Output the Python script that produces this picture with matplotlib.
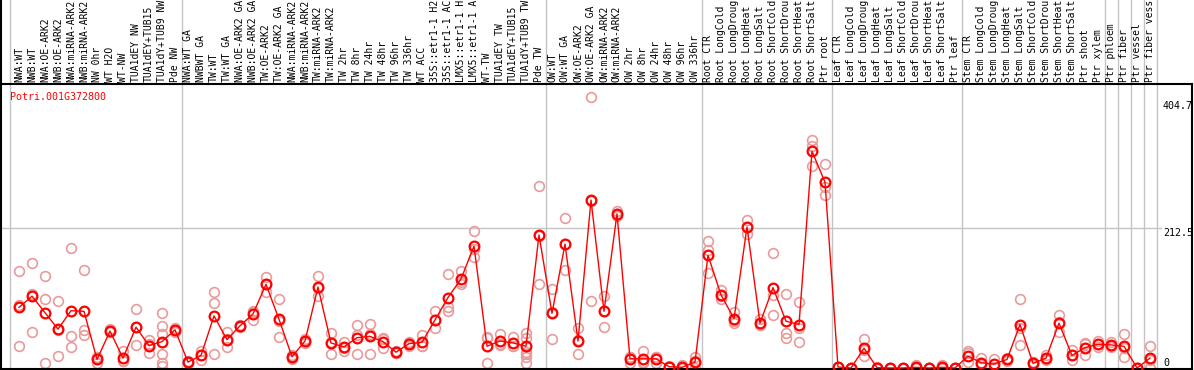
import matplotlib
matplotlib.use("Agg")
import matplotlib.pyplot as plt
import matplotlib.transforms as mtransforms
from matplotlib.lines import Line2D

# ---------------- data ----------------
gene_id = "Potri.001G372800"

labels = [
    "NWA:WT", "NWB:WT", "NWA:OE-ARK2", "NWB:OE-ARK2", "NWA:miRNA-ARK2", "NWB:miRNA-ARK2",
    "NW 0hr", "WT H2O", "WT-NW", "TUA1dEY NW", "TUA1dEY+TUB15", "TUA1dY+TUB9 NW", "Pde NW",
    "NWA:WT GA", "NWBWT GA", "TW:WT", "TW:WT GA", "NWA:OE-ARK2 GA", "NWB:OE-ARK2 GA",
    "TW:OE-ARK2", "TW:OE-ARK2 GA", "NWA:miRNA-ARK2", "NWB:miRNA-ARK2", "TW:miRNA-ARK2",
    "TW:miRNA-ARK2", "TW 2hr", "TW 8hr", "TW 24hr", "TW 48hr", "TW 96hr", "TW 336hr",
    "WT ACC", "35S::etr1-1 H2", "35S::etr1-1 AC", "LMX5::etr1-1 H", "LMX5::etr1-1 A",
    "WT-TW", "TUA1dEY TW", "TUA1dEY+TUB15", "TUA1dY+TUB9 TW", "Pde TW",
    "OW:WT", "OW:WT GA", "OW:OE-ARK2", "OW:OE-ARK2 GA", "OW:miRNA-ARK2", "OW:miRNA-ARK2",
    "OW 2hr", "OW 8hr", "OW 24hr", "OW 48hr", "OW 96hr", "OW 336hr",
    "Root CTR", "Root LongCold", "Root LongDroug", "Root LongHeat", "Root LongSalt",
    "Root ShortCold", "Root ShortDrou", "Root ShortHeat", "Root ShortSalt", "Ptr root",
    "Leaf CTR", "Leaf LongCold", "Leaf LongDroug", "Leaf LongHeat", "Leaf LongSalt",
    "Leaf ShortCold", "Leaf ShortDrou", "Leaf ShortHeat", "Leaf ShortSalt", "Ptr leaf",
    "Stem CTR", "Stem LongCold", "Stem LongDroug", "Stem LongHeat", "Stem LongSalt",
    "Stem ShortCold", "Stem ShortDrou", "Stem ShortHeat", "Stem ShortSalt", "Ptr shoot",
    "Ptr xylem", "Ptr phloem", "Ptr fiber", "Ptr vessel", "Ptr fiber vess",
]

mean_values = [
    92, 109, 84, 59, 87, 86, 13, 56, 15, 62, 34, 40, 58,
    9, 19, 79, 43, 64, 82, 127, 74, 17, 41, 123, 38, 32, 46, 48, 40, 24, 37,
    39, 73, 107, 135, 185, 33, 41, 38, 33, 202,
    83, 188, 41, 255, 86, 234, 14, 14, 14, 2, 1, 9,
    171, 111, 75, 214, 68, 122, 71, 66, 329, 282,
    1.5, 0, 30, 0.5, 0, 0, 1, 0, 1, 0,
    18, 8, 6, 13, 66, 7, 15, 68, 19, 31,
    36, 35, 33, 0, 15,
]

replicate_values = [
    [147, 34, 95], [160, 113, 54], [140, 104, 7], [102, 18, 57], [182, 49, 32],
    [149, 58, 50], [15, 7, 17], [59, 54, 56], [26, 10, 10], [90, 35, 62],
    [43, 23, 36], [84, 64, 52, 21, 7, 3], [60, 55, 58],
    [9, 7, 11], [26, 12, 20], [116, 99, 21], [54, 32, 44], [65, 62, 64],
    [87, 73, 85], [138, 116, 127], [104, 47, 72], [17, 20, 14], [44, 38, 41],
    [139, 110, 121], [53, 21, 40], [39, 26, 31], [66, 22, 50], [67, 52, 22],
    [45, 30, 44], [23, 26, 23], [39, 34, 38], [50, 34, 33], [86, 60, 73],
    [142, 92, 86], [147, 128, 131], [208, 168, 180], [45, 7, 47], [51, 35, 37],
    [47, 34, 33], [53, 45, 25, 21, 16, 8], [277, 128, 200],
    [120, 44, 85], [227, 149, 188], [60, 21, 42], [411, 101, 253], [110, 62, 86],
    [238, 230, 234], [17, 8, 17], [26, 9, 8], [17, 8, 16], [3, 1, 2], [4, 0, 0],
    [17, 0, 10],
    [193, 179, 144], [119, 105, 110], [85, 71, 69], [224, 204, 214], [74, 65, 66],
    [175, 111, 80], [112, 53, 46], [100, 60, 40], [346, 337, 307], [309, 262, 275],
    [2, 1, 2], [0, 0, 0], [44, 18, 28], [2, 0, 0], [0, 0, 0], [0, 0, 0], [5, 0, 0],
    [0, 0, 0], [5, 0, 0], [0, 0, 0],
    [26, 23, 9], [15, 6, 4], [13, 2, 2], [15, 10, 13], [104, 35, 60], [9, 5, 7],
    [20, 12, 13], [81, 54, 70], [27, 12, 19], [38, 19, 36],
    [41, 32, 36], [40, 33, 32], [52, 17, 31], [0, 0, 0], [33, 0, 12],
]

y_tick_values = [0, 212.5, 404.7]
y_tick_labels = ["0", "212.5", "404.7"]
group_boundaries = [-0.7, 12.5, 40.5, 52.5, 62.5, 72.5, 83.5, 84.5, 85.5, 86.5, 87.5]

# ---------------- layout ----------------
W, H = 1194, 370
fig = plt.figure(figsize=(W / 100, H / 100), dpi=100)
fig.patch.set_facecolor("white")

ax_left_px, ax_right_px = 1, 1192
ax_top_px, ax_bot_px = 84, 369
ax = fig.add_axes([ax_left_px / W, (H - ax_bot_px) / H,
                   (ax_right_px - ax_left_px) / W, (ax_bot_px - ax_top_px) / H])

step_px = 13.0
x0_px = 19.0
ax.set_xlim((ax_left_px - x0_px) / step_px, (ax_right_px - x0_px) / step_px)
scale = 140.0 / 212.5  # px per unit
zero_px = 368.0
ax.set_ylim(-(ax_bot_px - zero_px) / scale, (zero_px - ax_top_px) / scale)

mono = "DejaVu Sans Mono"
grid_c = "#c4c4c4"

# vertical group lines (extend through the label band)
top_ext = (ax_bot_px - 0) / (ax_bot_px - ax_top_px)
for b in group_boundaries:
    ax.axvline(b, ymin=0, ymax=top_ext, color=grid_c, lw=1.0, clip_on=False, zorder=1)

# horizontal grid at middle tick
ax.axhline(212.5, xmin=0, xmax=(1161 - ax_left_px) / (ax_right_px - ax_left_px),
           color=grid_c, lw=1.0, zorder=1)

# replicates
xs = list(range(len(labels)))
for i, reps in enumerate(replicate_values):
    ax.plot([i] * len(reps), reps, linestyle="none", marker="o", markersize=7,
            markerfacecolor="none", markeredgecolor="#ea9a9a", markeredgewidth=1.2,
            clip_on=False, zorder=2)

# mean line
ax.plot(xs, mean_values, color="#ff0000", lw=1.0, marker="o", markersize=7,
        markerfacecolor="none", markeredgecolor="#ff0000", markeredgewidth=1.6,
        clip_on=False, zorder=3)

# spines
for s in ax.spines.values():
    s.set_color("black")
    s.set_linewidth(1.5)
ax.set_xticks([])
ax.set_yticks([])

# left border through the label band
fig.add_artist(Line2D([ax_left_px / W + 0.0004] * 2, [(H - ax_top_px) / H, 1.0],
                      transform=fig.transFigure, color="black", lw=1.5))

# y tick labels at right
tick_x = (1163 - ax_left_px) / (ax_right_px - ax_left_px)
trans_y = mtransforms.blended_transform_factory(ax.transAxes, ax.transData)
for v, t in zip(y_tick_values, y_tick_labels):
    ax.text(tick_x, v, t, transform=trans_y, ha="left",
            va="bottom" if v == 0 else "top", fontsize=7.2, family=mono,
            color="black", clip_on=False)

# rotated sample labels
trans_lab = mtransforms.blended_transform_factory(ax.transData, fig.transFigure)
for i, lab in enumerate(labels):
    ax.text(i, (H - 82) / H, lab, rotation=90, ha="center", va="bottom",
            fontsize=7.0, family=mono, color="black", transform=trans_lab,
            clip_on=False)

# gene id
ax.text((10 - ax_left_px) / (ax_right_px - ax_left_px), (ax_bot_px - 97) / (ax_bot_px - ax_top_px),
        gene_id, transform=ax.transAxes, ha="left", va="center", fontsize=7.2,
        family=mono, color="#ff0000")

fig.savefig("out.png", dpi=100)
